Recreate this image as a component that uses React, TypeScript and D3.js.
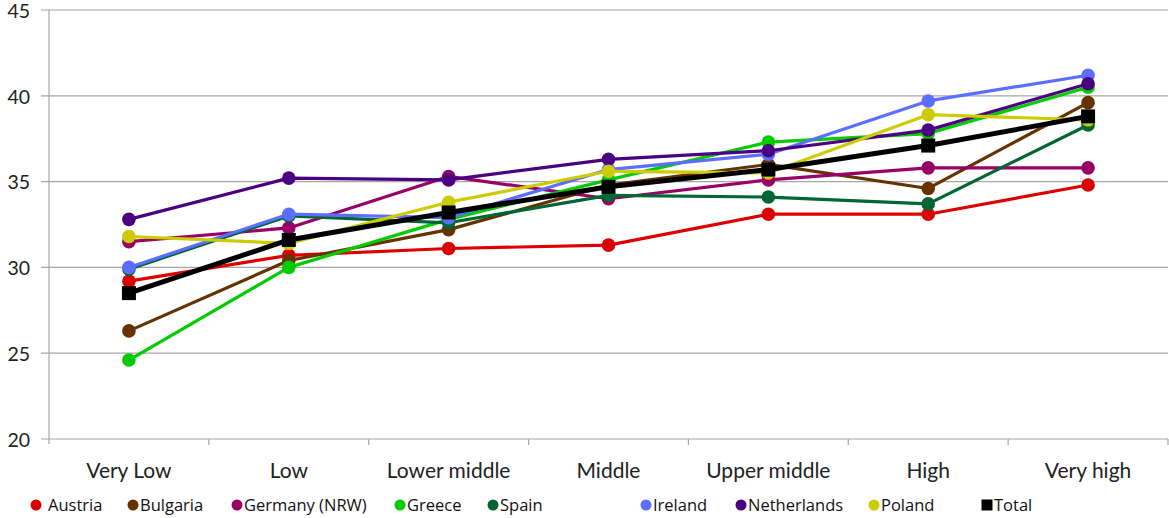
import React from "react";
import * as d3 from "d3";

const categories = ["Very Low", "Low", "Lower middle", "Middle", "Upper middle", "High", "Very high"];
const yTicks = [20, 25, 30, 35, 40, 45];

const seriesNames = ["Austria", "Bulgaria", "Germany (NRW)", "Greece", "Spain", "Ireland", "Netherlands", "Poland", "Total"];
const seriesColors = ["#DD0000", "#663300", "#990066", "#00CC00", "#006633", "#5B6EFF", "#4B0082", "#CCCC00", "#000000"];

const austria = [29.2, 30.7, 31.1, 31.3, 33.1, 33.1, 34.8];
const bulgaria = [26.3, 30.4, 32.2, 34.8, 36.0, 34.6, 39.6];
const germany = [31.5, 32.3, 35.3, 34.0, 35.1, 35.8, 35.8];
const greece = [24.6, 30.0, 32.8, 35.1, 37.3, 37.8, 40.5];
const spain = [29.9, 33.0, 32.6, 34.2, 34.1, 33.7, 38.3];
const ireland = [30.0, 33.1, 32.9, 35.7, 36.6, 39.7, 41.2];
const netherlands = [32.8, 35.2, 35.1, 36.3, 36.8, 38.0, 40.7];
const poland = [31.8, 31.4, 33.8, 35.6, 35.5, 38.9, 38.6];
const total = [28.5, 31.6, 33.2, 34.7, 35.7, 37.1, 38.8];

const seriesValues = [austria, bulgaria, germany, greece, spain, ireland, netherlands, poland, total];

const legendX = [36, 133, 237, 400, 493, 646, 741, 874, 987];

export default function App() {
  const width = 1169;
  const height = 518;
  const left = 49;
  const right = 1168;
  const top = 10;
  const bottom = 439;

  const x = d3.scaleBand<string>().domain(categories).range([left, right]);
  const cx = (c: string) => (x(c) as number) + x.bandwidth() / 2;
  const y = d3.scaleLinear().domain([20, 45]).range([bottom, top]);

  const line = d3
    .line<number>()
    .x((_, i) => cx(categories[i]))
    .y((d) => y(d));

  const axisFont = "Lato, 'Open Sans', sans-serif";

  return (
    <svg
      width={width}
      height={height}
      style={{ position: "absolute", left: 0, top: 0, background: "#fff" }}
    >
      {/* gridlines */}
      {yTicks.map((t) => (
        <g key={"g" + t}>
          <line x1={41} x2={right} y1={y(t)} y2={y(t)} stroke="#a6a6a6" strokeWidth={1.2} />
          <text
            x={30}
            y={y(t) + 1}
            dy="0.35em"
            textAnchor="end"
            fontFamily={axisFont}
            fontSize={19.5}
            fill="#222"
          >
            {t}
          </text>
        </g>
      ))}
      {/* y axis */}
      <line x1={left} x2={left} y1={top} y2={bottom + 5} stroke="#a6a6a6" strokeWidth={1.2} />
      {/* x ticks */}
      {categories.map((c) => (
        <line
          key={"xt" + c}
          x1={(x(c) as number) + x.bandwidth()}
          x2={(x(c) as number) + x.bandwidth()}
          y1={bottom}
          y2={bottom + 6}
          stroke="#a6a6a6"
          strokeWidth={1.2}
        />
      ))}
      {categories.map((c) => (
        <text
          key={"xl" + c}
          x={cx(c)}
          y={478}
          textAnchor="middle"
          fontFamily={axisFont}
          fontSize={21}
          fill="#222"
        >
          {c}
        </text>
      ))}
      {/* series */}
      {seriesValues.map((vals, si) => {
        const color = seriesColors[si];
        const isTotal = seriesNames[si] === "Total";
        return (
          <g key={"s" + si}>
            <path
              d={line(vals) || ""}
              fill="none"
              stroke={color}
              strokeWidth={isTotal ? 5 : 3.2}
              strokeLinejoin="round"
            />
            {vals.map((v, i) =>
              isTotal ? (
                <rect
                  key={i}
                  x={cx(categories[i]) - 7}
                  y={y(v) - 7}
                  width={14}
                  height={14}
                  fill={color}
                />
              ) : (
                <circle key={i} cx={cx(categories[i])} cy={y(v)} r={6.8} fill={color} />
              )
            )}
          </g>
        );
      })}
      {/* legend */}
      {seriesNames.map((name, si) => {
        const isTotal = name === "Total";
        const lx = legendX[si];
        return (
          <g key={"lg" + si}>
            {isTotal ? (
              <rect x={lx - 5.5} y={505 - 5.5} width={11} height={11} fill={seriesColors[si]} />
            ) : (
              <circle cx={lx} cy={505} r={5.5} fill={seriesColors[si]} />
            )}
            <text
              x={lx + (si === 0 ? 12 : 7)}
              y={505}
              dy="0.36em"
              fontFamily="'Open Sans', sans-serif"
              fontSize={16.5}
              fill="#111"
            >
              {name}
            </text>
          </g>
        );
      })}
    </svg>
  );
}
